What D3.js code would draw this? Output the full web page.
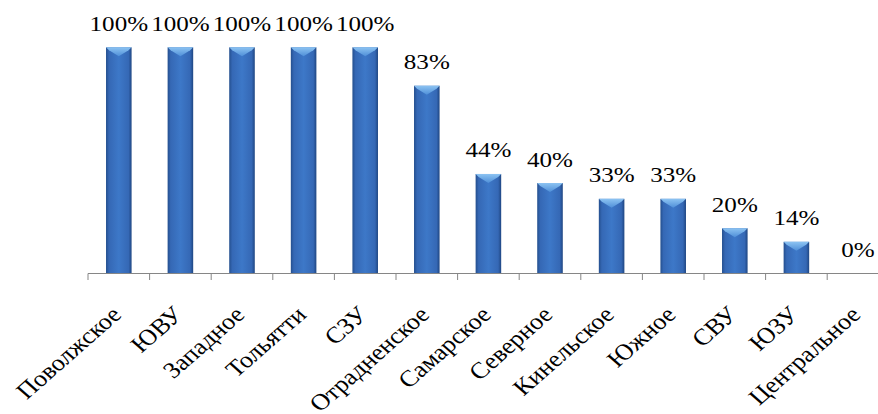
<!DOCTYPE html>
<html>
<head>
<meta charset="utf-8">
<script src="https://cdn.jsdelivr.net/npm/d3@7"></script>
<style>
  html, body { margin: 0; padding: 0; background: #fff; }
  svg { display: block; }
</style>
</head>
<body>
<svg id="chart" width="878" height="414"></svg>
<script>
const categories = ["Поволжское", "ЮВУ", "Западное", "Тольятти", "СЗУ", "Отрадненское",
  "Самарское", "Северное", "Кинельское", "Южное", "СВУ", "ЮЗУ", "Центральное"];
const values = [1.00, 1.00, 1.00, 1.00, 1.00, 0.83, 0.44, 0.40, 0.33, 0.33, 0.20, 0.14, 0.00];

const FONT = '"Liberation Serif"';
const stretch = 1.14; // the picture is a bit wider than tall

const svg = d3.select("#chart");
const W = 878;
const axisY = 273.5;
const left = 88, step = 61.6;

const x = d3.scaleBand()
  .domain(categories)
  .range([left, left + step * categories.length])
  .paddingInner(0.585)
  .paddingOuter(0.2925);

const y = d3.scaleLinear().domain([0, 1]).range([axisY, 47.3]);

const defs = svg.append("defs");
const grad = defs.append("linearGradient").attr("id", "barGrad")
  .attr("x1", "0").attr("x2", "1").attr("y1", "0").attr("y2", "0");
grad.append("stop").attr("offset", "0").attr("stop-color", "#244f8e");
grad.append("stop").attr("offset", "0.12").attr("stop-color", "#3568b5");
grad.append("stop").attr("offset", "0.5").attr("stop-color", "#3d78c8");
grad.append("stop").attr("offset", "0.88").attr("stop-color", "#3568b5");
grad.append("stop").attr("offset", "1").attr("stop-color", "#1f4682");

const bevel = defs.append("linearGradient").attr("id", "bevelGrad")
  .attr("x1", "0").attr("x2", "0").attr("y1", "0").attr("y2", "1");
bevel.append("stop").attr("offset", "0").attr("stop-color", "#8cc3f2");
bevel.append("stop").attr("offset", "1").attr("stop-color", "#4f8fd8");

const bars = svg.append("g");
const bw = x.bandwidth();
const shown = categories.filter((c, i) => values[i] > 0);
const val = d => values[categories.indexOf(d)];

bars.selectAll("rect")
  .data(shown)
  .join("rect")
  .attr("x", d => x(d))
  .attr("y", d => y(val(d)))
  .attr("width", bw)
  .attr("height", d => axisY - y(val(d)))
  .attr("fill", "url(#barGrad)");

// top bevel
const bh = 9;
bars.selectAll("path.bevel")
  .data(shown)
  .join("path")
  .attr("class", "bevel")
  .attr("fill", "url(#bevelGrad)")
  .attr("d", d => {
    const x0 = x(d), t = y(val(d));
    return `M${x0},${t}L${x0 + bw},${t}L${x0 + bw - 3},${t + 3}L${x0 + bw / 2},${t + bh}L${x0 + 3},${t + 3}Z`;
  });

// axis line and ticks between categories
const axis = svg.append("g");
axis.append("line")
  .attr("x1", left).attr("x2", W)
  .attr("y1", axisY).attr("y2", axisY)
  .attr("stroke", "#868686").attr("stroke-width", 1);

const bounds = d3.range(categories.length + 1).map(i => left + i * x.step());
axis.selectAll("line.tick")
  .data(bounds)
  .join("line")
  .attr("class", "tick")
  .attr("x1", d => d).attr("x2", d => d)
  .attr("y1", axisY).attr("y2", axisY + 6.5)
  .attr("stroke", "#868686").attr("stroke-width", 1);

// value labels
svg.append("g").selectAll("text")
  .data(categories)
  .join("text")
  .attr("text-anchor", "middle")
  .style("font-family", FONT)
  .style("font-size", "22px")
  .attr("transform", (d, i) => `translate(${x(d) + bw / 2},${y(values[i]) - 16.5}) scale(${stretch},1)`)
  .text((d, i) => Math.round(values[i] * 100) + "%");

// category labels
svg.append("g").selectAll("text")
  .data(categories)
  .join("text")
  .attr("text-anchor", "end")
  .style("font-family", FONT)
  .style("font-size", "23px")
  .attr("transform", d => `translate(${x(d) + bw / 2 + 4},${axisY + 42.5}) scale(${stretch},1) rotate(-45)`)
  .text(d => d);
</script>
</body>
</html>
